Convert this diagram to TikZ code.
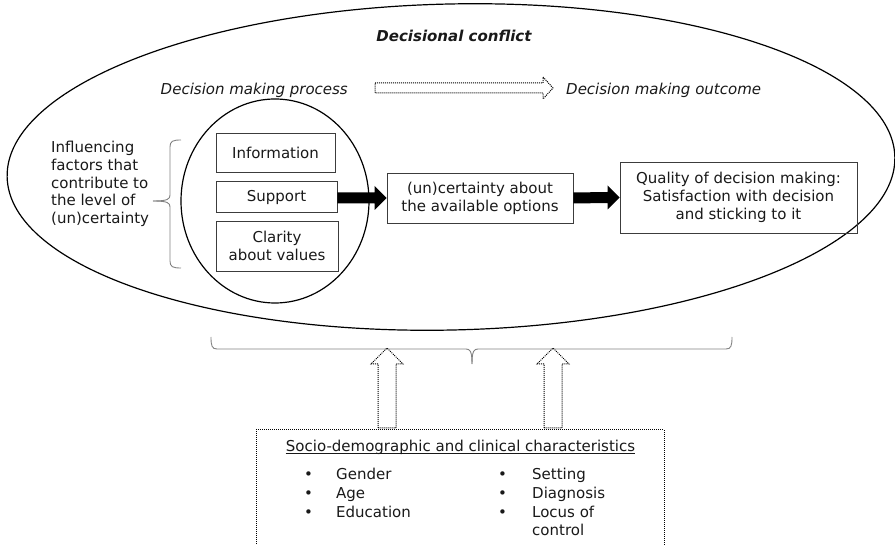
\documentclass[tikz,border=0pt]{standalone}
\usepackage{fontspec}
\setmainfont{DejaVu Sans}
\usetikzlibrary{calc}
\definecolor{boxline}{RGB}{60,60,60}
\definecolor{braceline}{RGB}{130,130,130}
\definecolor{inkcol}{RGB}{25,25,25}
\begin{document}
\begin{tikzpicture}[x=1pt,y=-1pt,
  txt/.style={font=\fontsize{15}{17.8}\selectfont, text=inkcol, inner sep=0pt},
  stepbox/.style={txt, draw=boxline, line width=0.9pt, align=center},
  ring/.style={draw=black, line width=1.2pt},
  bracket/.style={draw=braceline, line width=0.9pt},
  dotline/.style={draw=black, line width=1pt, dash pattern=on 1pt off 1pt},
  fatarrow/.style={to path={
    ($(\tikztostart)+(0,-5.5)$) -- ($(\tikztotarget)+(-12,-5.5)$) --
    ($(\tikztotarget)+(-12,-12)$) -- (\tikztotarget) --
    ($(\tikztotarget)+(-12,12)$) -- ($(\tikztotarget)+(-12,5.5)$) --
    ($(\tikztostart)+(0,5.5)$) -- cycle}},
  hollowright/.style={to path={
    ($(\tikztostart)+(0,-5)$) -- ($(\tikztotarget)+(-10,-5)$) --
    ($(\tikztotarget)+(-10,-11)$) -- (\tikztotarget) --
    ($(\tikztotarget)+(-10,11)$) -- ($(\tikztotarget)+(-10,5)$) --
    ($(\tikztostart)+(0,5)$) -- cycle}},
  hollowup/.style={to path={
    ($(\tikztostart)+(-9,0)$) -- ($(\tikztotarget)+(-9,16)$) --
    ($(\tikztotarget)+(-16,16)$) -- (\tikztotarget) --
    ($(\tikztotarget)+(16,16)$) -- ($(\tikztotarget)+(9,16)$) --
    ($(\tikztostart)+(9,0)$) -- cycle}}
]
\useasboundingbox (0,0) rectangle (895,545);
\clip (0,0) rectangle (895,545);

% outer and inner ellipses
\draw[ring, rotate around={1.3:(451,167)}] (451,167) ellipse [x radius=444pt, y radius=163pt];
\draw[ring] (275,201) ellipse [x radius=94pt, y radius=102pt];

% headings
\node[txt, font=\fontsize{15}{17.8}\selectfont\bfseries\itshape] (title) at (454,36) {Decisional conflict};
\node[txt, font=\fontsize{15}{17.8}\selectfont\itshape, anchor=base east] (proc) at (348,95) {Decision making process};
\node[txt, font=\fontsize{15}{17.8}\selectfont\itshape, anchor=base west] (outc) at (566,95) {Decision making outcome};
\coordinate (pa) at (375,88);
\coordinate (pb) at (553,88);
\draw[dotline] (pa) to[hollowright] (pb);

% influencing factors
\node[txt, align=left, anchor=north west] (infl) at (51,141)
  {Influencing\\factors that\\contribute to\\the level of\\(un)certainty};
\draw[bracket] (181,140) .. controls (173,140) and (170,141) .. (170,147)
  -- (170,195) .. controls (170,199) and (168,201) .. (153,201);
\draw[bracket] (181,268) .. controls (173,268) and (170,267) .. (170,261)
  -- (170,207) .. controls (170,203) and (168,201) .. (153,201);

% boxes
\node[stepbox, minimum width=119pt, minimum height=39pt] (info) at (275.5,152.5) {Information};
\node[stepbox, minimum width=121pt, minimum height=31pt] (supp) at (276.5,197) {Support};
\node[stepbox, minimum width=122pt, minimum height=50pt] (clar) at (277,246) {Clarity\\about values};
\node[stepbox, minimum width=186pt, minimum height=50pt] (unc) at (480,198) {(un)certainty about\\the available options};
\node[stepbox, minimum width=237pt, minimum height=71pt] (qual) at (738.5,197.5)
  {Quality of decision making:\\Satisfaction with decision\\and sticking to it};

% solid arrows
\fill[black] (supp.east |- unc.west) to[fatarrow] (unc.west);
\fill[black] (unc.east) to[fatarrow] (qual.west);

% lower brace
\draw[bracket] (211,337) .. controls (211,346) and (212,349) .. (217,349)
  -- (466,349) .. controls (470,349) and (472,351) .. (472,364);
\draw[bracket] (732,337) .. controls (732,346) and (731,349) .. (726,349)
  -- (478,349) .. controls (474,349) and (472,351) .. (472,364);

% characteristics box
\draw[dotline] (256,560) -- (256,430) -- (664,430) -- (664,560);
\coordinate (u1b) at (387,428);
\coordinate (u1t) at (387,348);
\coordinate (u2b) at (553,428);
\coordinate (u2t) at (553,348);
\draw[dotline] (u1b) to[hollowup] (u1t);
\draw[dotline] (u2b) to[hollowup] (u2t);

\node[txt, anchor=base] (soc) at (460.5,451) {Socio-demographic and clinical characteristics};
\draw[inkcol, line width=0.8pt] ($(soc.base west)+(0,2)$) -- ($(soc.base east)+(0,2)$);

\node[txt, anchor=base] (b1) at (308.5,479) {•};
\node[txt, anchor=base] (b2) at (308.5,498) {•};
\node[txt, anchor=base] (b3) at (308.5,517) {•};
\node[txt, anchor=base] (b4) at (502.5,479) {•};
\node[txt, anchor=base] (b5) at (502.5,498) {•};
\node[txt, anchor=base] (b6) at (502.5,517) {•};
\node[txt, anchor=base west] (gen) at (336,479) {Gender};
\node[txt, anchor=base west] (age) at (336,498) {Age};
\node[txt, anchor=base west] (edu) at (336,517) {Education};
\node[txt, anchor=base west] (set) at (532,479) {Setting};
\node[txt, anchor=base west] (dia) at (532,498) {Diagnosis};
\node[txt, anchor=base west] (loc) at (532,517) {Locus of};
\node[txt, anchor=base west] (ctl) at (532,535.5) {control};
\end{tikzpicture}
\end{document}
